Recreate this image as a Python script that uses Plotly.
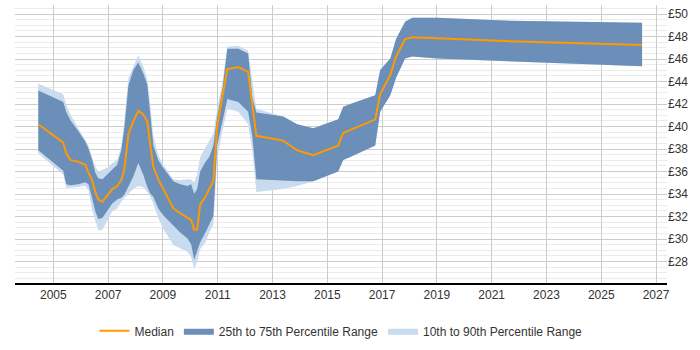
import plotly.graph_objects as go

years = [2004.45, 2005.36, 2005.47, 2005.62, 2005.91, 2006.17, 2006.28, 2006.42, 2006.53, 2006.64,
         2006.79, 2006.97, 2007.15, 2007.33, 2007.48, 2007.59, 2007.74, 2007.92, 2008.10, 2008.28,
         2008.43, 2008.54, 2008.65, 2008.83, 2009.01, 2009.38, 2009.63, 2009.89, 2010.03, 2010.14,
         2010.25, 2010.36, 2010.55, 2010.69, 2010.84, 2010.98, 2011.17, 2011.35, 2011.75, 2012.11,
         2012.26, 2012.41, 2013.39, 2013.90, 2014.49, 2015.40, 2015.58, 2015.84, 2016.75, 2016.93,
         2017.30, 2017.51, 2017.84, 2018.10, 2019.01, 2021.67, 2026.49]

p90 = [43.81, 42.87, 41.92, 41.07, 39.86, 38.83, 38.32, 37.20, 36.43, 36.00,
       36.17, 36.34, 36.77, 37.03, 38.32, 40.46, 44.33, 45.36, 46.31, 45.36,
       44.16, 41.92, 39.18, 37.46, 36.60, 35.31, 35.22, 35.31, 35.31, 35.05,
       35.74, 37.29, 38.15, 38.66, 39.35, 41.58, 43.90, 47.08, 47.17, 46.74,
       43.90, 41.58, 40.89, 40.21, 39.86, 40.64, 41.75, 42.01, 42.78, 45.02,
       46.05, 47.77, 49.31, 49.66, 49.66, 49.40, 49.23]

p75 = [43.21, 42.18, 41.32, 40.55, 39.60, 38.66, 38.06, 37.03, 35.91, 35.40,
       35.31, 35.74, 36.17, 36.60, 37.89, 39.86, 43.64, 45.02, 45.70, 44.76,
       43.73, 41.15, 38.32, 37.03, 36.34, 35.14, 34.88, 34.71, 34.88, 34.02,
       34.45, 36.00, 36.86, 37.29, 38.32, 40.89, 43.30, 46.91, 46.91, 46.48,
       42.61, 41.24, 40.89, 40.21, 39.86, 40.64, 41.75, 42.01, 42.78, 45.02,
       46.05, 47.77, 49.31, 49.66, 49.66, 49.40, 49.23]

median = [40.21, 38.57, 37.63, 37.03, 36.86, 36.60, 35.91, 35.22, 34.19, 33.51,
          33.33, 33.85, 34.45, 34.71, 35.22, 36.17, 39.35, 40.46, 41.41, 41.07,
          40.46, 38.32, 36.43, 35.31, 34.45, 32.73, 32.30, 31.87, 31.70, 30.84,
          30.84, 33.08, 33.76, 34.45, 35.14, 40.03, 42.61, 45.10, 45.28, 44.85,
          42.01, 39.18, 38.75, 37.89, 37.46, 38.32, 39.43, 39.69, 40.64, 42.87,
          44.59, 46.22, 47.77, 47.94, 47.85, 47.59, 47.25]

p25 = [37.89, 36.08, 34.88, 34.79, 34.88, 35.05, 34.88, 33.59, 32.47, 31.79,
       31.87, 32.56, 33.16, 33.51, 33.68, 33.94, 34.62, 35.57, 36.77, 35.74,
       34.62, 34.02, 33.76, 32.73, 32.13, 31.19, 30.58, 30.07, 29.55, 28.18,
       28.87, 29.73, 30.58, 31.27, 32.05, 38.32, 40.46, 42.44, 42.18, 41.32,
       39.18, 35.31, 35.22, 35.14, 35.14, 36.00, 37.03, 37.29, 38.32, 41.32,
       42.78, 44.33, 46.05, 46.22, 46.05, 45.79, 45.36]

p10 = [37.63, 35.74, 34.54, 34.54, 34.62, 34.71, 34.36, 32.56, 31.62, 30.76,
       30.84, 31.70, 32.47, 32.73, 33.33, 33.68, 34.02, 34.45, 34.71, 34.62,
       34.19, 33.76, 33.16, 31.87, 30.93, 29.47, 29.21, 28.87, 28.44, 27.32,
       28.01, 29.12, 29.73, 30.58, 31.27, 37.03, 39.60, 41.58, 41.32, 40.21,
       37.89, 34.19, 34.45, 34.71, 35.14, 36.00, 37.03, 37.29, 38.32, 41.32,
       42.78, 44.33, 46.05, 46.22, 46.05, 45.79, 45.36]

x_ticks = [2005, 2007, 2009, 2011, 2013, 2015, 2017, 2019, 2021, 2023, 2025, 2027]
y_ticks = [28, 30, 32, 34, 36, 38, 40, 42, 44, 46, 48, 50]

LIGHT = "#c9dbee"
DARK = "#6b8fb9"
ORANGE = "#ff9900"

fig = go.Figure()
fig.add_trace(go.Scatter(
    x=years + years[::-1], y=p90 + p10[::-1], fill="toself", fillcolor=LIGHT,
    line=dict(width=0, color=LIGHT), mode="lines", hoverinfo="skip",
    name="10th to 90th Percentile Range", legendrank=3))
fig.add_trace(go.Scatter(
    x=years + years[::-1], y=p75 + p25[::-1], fill="toself", fillcolor=DARK,
    line=dict(width=0, color=DARK), mode="lines", hoverinfo="skip",
    name="25th to 75th Percentile Range", legendrank=2))
fig.add_trace(go.Scatter(
    x=years, y=median, mode="lines", line=dict(color=ORANGE, width=2),
    name="Median", legendrank=1))

fig.update_layout(
    width=700, height=350,
    margin=dict(l=15, r=33, t=5, b=58),
    paper_bgcolor="white", plot_bgcolor="white",
    font=dict(family="Liberation Sans, Arial, sans-serif", size=12, color="#333"),
    showlegend=True,
    legend=dict(orientation="h", x=0.5, xanchor="center", y=-0.12, yanchor="top",
                font=dict(size=12, color="#333"), itemwidth=30),
    xaxis=dict(range=[2003.6, 2027.4], tickvals=x_ticks, ticktext=[str(t) for t in x_ticks],
               showgrid=True, gridcolor="#cccccc", gridwidth=1,
               showline=True, linecolor="#000", linewidth=1.5,
               ticks="", zeroline=False, tickfont=dict(size=12, color="#333")),
    yaxis=dict(range=[26.1, 50.8], side="right", tickvals=y_ticks,
               ticktext=["£%d" % t for t in y_ticks],
               showgrid=True, gridcolor="#cccccc", gridwidth=1,
               minor=dict(dtick=0.5, tick0=0, showgrid=True, gridcolor="#ebebeb", gridwidth=1),
               showline=False, zeroline=False, ticks="",
               tickfont=dict(size=12, color="#333")),
)

fig.write_html("out.html")
